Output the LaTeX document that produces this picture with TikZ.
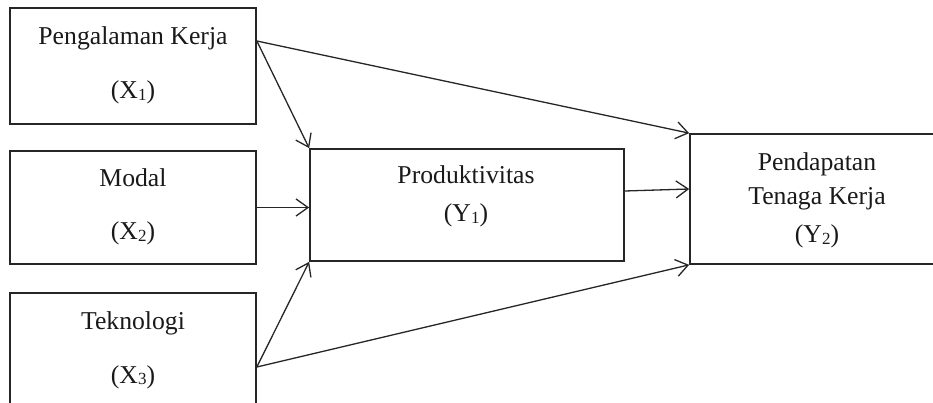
\documentclass[tikz,border=0pt]{standalone}
\usepackage{fontspec}
\setmainfont{Liberation Serif}
\usetikzlibrary{arrows.meta}
\newcommand{\sbs}[1]{\raisebox{-1.5pt}{\fontsize{17}{17}\selectfont #1}}
\begin{document}
\begin{tikzpicture}[x=1pt,y=-1pt,
  box/.style={draw=black!85, line width=1.7pt, inner sep=0pt},
  lbl/.style={anchor=base, inner sep=0pt, font=\fontsize{25.7}{30}\selectfont, text=black!90},
  arr/.style={draw=black!85, line width=1.3pt, -{Straight Barb[length=12pt,width=17pt,line width=1.3pt]}}]
\useasboundingbox (0,0) rectangle (933,403);
\clip (0,0) rectangle (933,403);
% boxes
\node[box, minimum width=246pt, minimum height=116pt] (x1) at (133,66) {};
\node[box, minimum width=246pt, minimum height=113pt] (x2) at (133,207.5) {};
\node[box, minimum width=246pt, minimum height=124pt] (x3) at (133,355) {};
\node[box, minimum width=314pt, minimum height=112pt] (y1) at (467,205) {};
\node[box, minimum width=256pt, minimum height=130pt] (y2) at (818,199) {};
% texts
\node[lbl] (t1a) at (133,45) {Pengalaman Kerja};
\node[lbl] (t1b) at (133,99) {(X\sbs{1})};
\node[lbl] (t2a) at (133,187) {Modal};
\node[lbl] (t2b) at (133,240) {(X\sbs{2})};
\node[lbl] (t3a) at (133,329) {Teknologi};
\node[lbl] (t3b) at (133,383) {(X\sbs{3})};
\node[lbl] (t4a) at (466,184) {Produktivitas};
\node[lbl] (t4b) at (466,222) {(Y\sbs{1})};
\node[lbl] (t5a) at (817,171) {Pendapatan};
\node[lbl] (t5b) at (817,205) {Tenaga Kerja};
\node[lbl] (t5c) at (817,243) {(Y\sbs{2})};
% connectors
\coordinate (x1o) at (x1.east |- 0,41);
\coordinate (x3o) at (x3.east |- 0,367);
\coordinate (y1o) at (y1.east |- 0,191);
\coordinate (y2m) at (y2.west |- 0,189);
\draw[arr] (x1o) -- (y2.north west);
\draw[arr] (x1o) -- (y1.north west);
\draw[arr] (x2.east) -- (y1.west |- x2.east);
\draw[arr] (x3o) -- (y1.south west);
\draw[arr] (x3o) -- (y2.south west);
\draw[arr] (y1o) -- (y2m);
\end{tikzpicture}
\end{document}
